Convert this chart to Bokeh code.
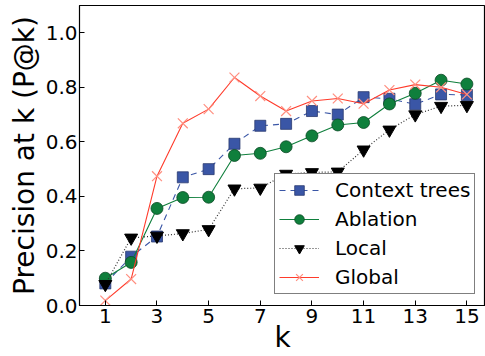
from bokeh.plotting import figure
from bokeh.models import Range1d, FixedTicker, Legend, LegendItem, NumeralTickFormatter
from bokeh.embed import file_html
from bokeh.resources import INLINE

k = list(range(1, 16))
context_trees = [0.081, 0.179, 0.253, 0.470, 0.500, 0.593, 0.659, 0.666, 0.713, 0.700, 0.764, 0.758, 0.738, 0.774, 0.772]
ablation = [0.100, 0.158, 0.356, 0.396, 0.397, 0.550, 0.558, 0.582, 0.622, 0.662, 0.671, 0.739, 0.778, 0.826, 0.812]
local = [0.078, 0.248, 0.255, 0.264, 0.279, 0.428, 0.431, 0.482, 0.488, 0.490, 0.571, 0.644, 0.700, 0.731, 0.734]
global_ = [0.018, 0.097, 0.474, 0.668, 0.720, 0.836, 0.768, 0.713, 0.750, 0.759, 0.740, 0.790, 0.810, 0.800, 0.774]
x_ticks = [1, 3, 5, 7, 9, 11, 13, 15]
y_ticks = [0.0, 0.2, 0.4, 0.6, 0.8, 1.0]

FONT = "DejaVu Sans"
p = figure(width=485, height=356, output_backend="svg", toolbar_location=None,
           x_range=Range1d(0, 15.72), y_range=Range1d(0, 1.1),
           min_border_left=79, min_border_right=0, min_border_top=5, min_border_bottom=49)
p.xgrid.visible = False
p.ygrid.visible = False
p.outline_line_color = "black"
p.outline_line_width = 1.2
p.background_fill_color = "white"
p.border_fill_color = "white"

for ax in (p.xaxis[0], p.yaxis[0]):
    ax.major_tick_in = 5
    ax.major_tick_out = 0
    ax.minor_tick_in = 0
    ax.minor_tick_out = 0
    ax.major_label_text_font = FONT
    ax.major_label_text_font_size = "20px"
    ax.major_label_text_color = "black"
    ax.axis_label_text_font = FONT
    ax.axis_label_text_font_style = "normal"
    ax.axis_label_text_font_size = "28px"
    ax.axis_label_text_color = "black"
    ax.axis_line_color = "black"
    ax.major_label_standoff = 2
p.xaxis[0].ticker = FixedTicker(ticks=x_ticks)
p.yaxis[0].ticker = FixedTicker(ticks=y_ticks)
p.yaxis[0].formatter = NumeralTickFormatter(format="0.0")
p.xaxis[0].axis_label = "k"
p.yaxis[0].axis_label = "Precision at k (P@k)"
p.xaxis[0].major_label_standoff = 3
p.xaxis[0].axis_label_standoff = -5
p.yaxis[0].axis_label_standoff = 2

blue = "#3a56a6"
green = "#0f7f3c"
red = "#ff3b2b"
salmon = "#ff8f80"

l1 = p.line(k, context_trees, line_color=blue, line_dash="6 5", line_width=1.1)
s1 = p.scatter(k, context_trees, marker="square", size=11, fill_color=blue, line_color="#2a3a70", line_width=0.8)
l2 = p.line(k, ablation, line_color=green, line_width=1.1)
s2 = p.scatter(k, ablation, marker="circle", size=12, fill_color=green, line_color="#0a4a25", line_width=0.8)
l3 = p.line(k, local, line_color="#333333", line_dash="1 2", line_width=1.2)
s3 = p.scatter(k, local, marker="inverted_triangle", size=13, fill_color="black", line_color="black")
l4 = p.line(k, global_, line_color=red, line_width=1.1)
s4 = p.scatter(k, global_, marker="x", size=14, line_color=salmon, line_width=1.2)

legend = Legend(items=[
    LegendItem(label="Context trees", renderers=[l1, s1]),
    LegendItem(label="Ablation", renderers=[l2, s2]),
    LegendItem(label="Local", renderers=[l3, s3]),
    LegendItem(label="Global", renderers=[l4, s4]),
], location=(195, 11))
legend.label_text_font = FONT
legend.label_text_font_size = "20px"
legend.label_text_color = "black"
legend.glyph_width = 40
legend.glyph_height = 24
legend.label_height = 24
legend.spacing = 5
legend.padding = 4
legend.margin = 0
legend.label_standoff = 16
legend.border_line_color = "black"
legend.border_line_width = 1.2
legend.background_fill_alpha = 1
p.add_layout(legend, "center")

open("out.html", "w").write(file_html(p, INLINE))
